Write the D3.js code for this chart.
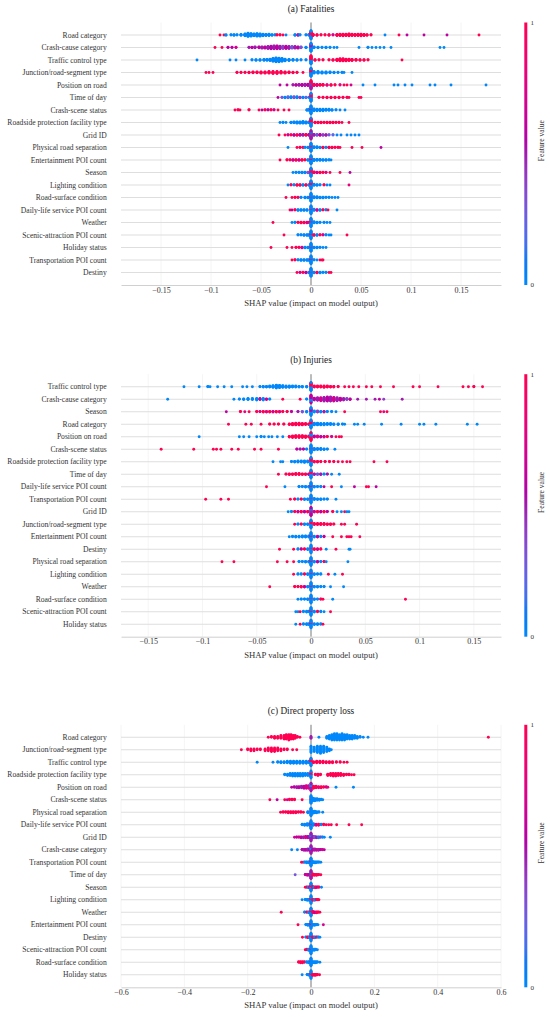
<!DOCTYPE html>
<html>
<head>
<meta charset="utf-8">
<script src="https://cdn.jsdelivr.net/npm/d3@7"></script>
<style>
  body { margin: 0; background: #fff; }
  svg { display: block; font-family: "Liberation Serif", "Times New Roman", serif; }
</style>
</head>
<body>
<svg></svg>
<script>
// each point group: [shap value, feature value (0 low .. 1 high), count]

let fatalFeatures = ["Road category", "Crash-cause category", "Traffic control type", "Junction/road-segment type",
    "Position on road", "Time of day", "Crash-scene status", "Roadside protection facility type", "Grid ID",
    "Physical road separation", "Entertainment POI count", "Season", "Lighting condition", "Road-surface condition",
    "Daily-life service POI count", "Weather", "Scenic-attraction POI count", "Holiday status",
    "Transportation POI count", "Destiny"];

let fatalPoints = [
    [[-0.091,1,1],[-0.087,1,1],[-0.085,0,2],[-0.08,0,2],[-0.077,0,3],[-0.074,0,2],[-0.07,0,4],[-0.066,0,8],[-0.063,0,12],[-0.06,0,10],[-0.057,0,8],[-0.054,0,10],[-0.051,0,9],[-0.048,0,7],[-0.045,0,5],[-0.042,0,6],[-0.039,0,3],[-0.036,0,2],[-0.034,1,2],[-0.031,1,2],[-0.028,1,1],[-0.025,0,1],[-0.016,0,3],[-0.013,0.5,3],[-0.011,0,2],[-0.005,0,2],[-0.002,0,4],
     [0,0,16],[0,1,10],[0,0.5,4],
     [0.002,1,6],[0.006,1,3],[0.01,1,2],[0.014,1,2],[0.018,1,3],[0.022,0.7,2],[0.026,1,5],[0.029,1,6],[0.032,1,7],[0.035,1,6],[0.038,1,8],[0.041,1,6],[0.044,1,5],[0.047,1,6],[0.05,1,7],[0.053,1,5],[0.056,1,3],[0.06,1,2],[0.074,0,1],[0.088,1,1],[0.096,0.6,1],[0.113,0.6,1],[0.136,0.6,1],[0.168,1,1]],
    [[-0.096,1,1],[-0.089,1,1],[-0.083,0.6,2],[-0.079,0.6,2],[-0.075,0.7,2],[-0.062,0.5,2],[-0.059,0.6,3],[-0.056,0.5,4],[-0.052,0.6,4],[-0.049,0.5,5],[-0.046,0.6,5],[-0.043,0.5,7],[-0.04,0.55,9],[-0.037,0.5,10],[-0.034,0.6,10],[-0.031,0.5,9],[-0.028,0.4,8],[-0.025,0.6,8],[-0.022,0.5,7],[-0.019,0.3,6],[-0.016,0.5,6],[-0.013,0.6,5],[-0.01,0.3,4],[-0.005,0,3],
     [0,0,16],[0,0.5,10],
     [0.003,0,4],[0.007,0,3],[0.011,0,2],[0.015,0,3],[0.019,0,2],[0.023,0,1],[0.026,0,1],[0.048,0,1],[0.057,0,2],[0.061,0,1],[0.065,0,1],[0.069,0,1],[0.073,0,1],[0.08,0,1],[0.129,0,1],[0.133,0,1]],
    [[-0.114,0,1],[-0.081,0,1],[-0.075,0,1],[-0.066,0,1],[-0.059,0,2],[-0.055,0,3],[-0.051,0,3],[-0.047,0,4],[-0.044,0,4],[-0.041,0,6],[-0.038,0,10],[-0.035,0,14],[-0.032,0,13],[-0.029,0,10],[-0.026,0,7],[-0.022,0,5],[-0.018,0,4],[-0.014,0,3],[-0.01,0,2],[-0.005,0,2],
     [0,0,14],[0,1,14],
     [0.004,1,3],[0.008,1,2],[0.012,1,2],[0.018,1,2],[0.022,1,3],[0.026,1,6],[0.029,1,8],[0.032,1,8],[0.035,1,7],[0.038,1,6],[0.041,1,5],[0.045,1,4],[0.049,1,3],[0.053,1,3],[0.057,1,2],[0.091,1,1]],
    [[-0.105,1,1],[-0.102,1,1],[-0.098,1,1],[-0.074,1,2],[-0.07,1,2],[-0.066,1,2],[-0.062,1,3],[-0.058,1,4],[-0.054,1,4],[-0.05,1,5],[-0.046,1,5],[-0.042,1,6],[-0.038,1,7],[-0.034,1,7],[-0.03,1,6],[-0.026,1,5],[-0.022,1,4],[-0.018,1,3],[-0.014,1,2],[-0.008,1,1],
     [0,0,16],[0,1,10],
     [0.003,0,6],[0.007,0,6],[0.011,0,5],[0.015,0,5],[0.019,0,4],[0.023,0,3],[0.027,0,2],[0.031,0,2],[0.033,0,1],[0.041,0,1]],
    [[-0.031,0.6,1],[-0.024,0.6,1],[-0.018,0.5,2],[-0.015,0.6,3],[-0.012,0.5,4],[-0.009,0.6,5],[-0.006,0.5,6],[-0.003,0.6,6],
     [0,0.5,12],[0,1,12],[0,0,6],
     [0.003,1,6],[0.006,0.8,5],[0.009,1,4],[0.012,1,4],[0.016,0.8,3],[0.02,1,3],[0.024,1,2],[0.029,0.8,2],[0.033,1,1],[0.036,1,1],[0.04,0.7,1],[0.052,0,1],[0.064,0,1],[0.083,0,1],[0.087,0,1],[0.094,0,1],[0.101,0,1],[0.119,0,1],[0.124,0,1],[0.14,0,1],[0.175,0,1]],
    [[-0.033,0.6,1],[-0.029,0.3,2],[-0.026,0,3],[-0.023,0.2,4],[-0.02,0,4],[-0.017,0.3,4],[-0.014,0,4],[-0.011,0.4,3],[-0.008,0,3],[-0.005,0.2,3],[-0.002,0,2],
     [0,0,14],[0,1,10],
     [0.008,1,2],[0.012,1,2],[0.016,1,3],[0.02,1,3],[0.024,1,3],[0.028,1,3],[0.032,1,2],[0.036,1,2],[0.038,1,1],[0.048,1,1],[0.05,1,1]],
    [[-0.076,1,1],[-0.073,1,2],[-0.071,1,1],[-0.062,1,2],[-0.052,1,1],[-0.049,0.6,1],[-0.046,1,2],[-0.043,0.6,2],[-0.04,1,2],[-0.037,0.7,2],[-0.033,1,1],[-0.027,1,1],[-0.022,1,1],[-0.004,0,3],[-0.002,0,4],
     [0,0,20],[0,1,4],
     [0.003,0,6],[0.006,0,5],[0.009,0,5],[0.012,0,5],[0.015,0,4],[0.018,0,4],[0.021,0,3],[0.025,0,2],[0.029,0,1],[0.034,0,1]],
    [[-0.031,0,1],[-0.028,0,2],[-0.025,0,1],[-0.02,0,3],[-0.017,0,4],[-0.014,0,5],[-0.011,0,5],[-0.008,0,6],[-0.005,0,5],[-0.002,0,4],
     [0,0,14],[0,1,12],
     [0.004,1,3],[0.007,1,3],[0.01,1,3],[0.013,1,2],[0.016,1,3],[0.019,1,3],[0.022,1,3],[0.025,1,2],[0.028,1,2],[0.031,1,1],[0.038,1,1]],
    [[-0.032,1,1],[-0.026,1,1],[-0.023,0.7,2],[-0.02,1,2],[-0.017,0.6,3],[-0.014,1,3],[-0.011,0.7,4],[-0.008,0.5,4],[-0.005,1,4],[-0.002,0.6,4],
     [0,0.5,14],[0,0,10],[0,1,6],
     [0.003,0.5,4],[0.006,0.3,4],[0.009,0.6,4],[0.012,0.4,3],[0.015,0.5,3],[0.018,0.3,2],[0.022,0.2,2],[0.026,0,1],[0.03,0,1],[0.036,0,1],[0.04,0,1],[0.044,0,1],[0.048,0,1]],
    [[-0.023,0,1],[-0.014,1,1],[-0.011,1,2],[-0.008,1,2],[-0.006,0,2],[-0.003,0,3],
     [0,0,18],[0,1,6],
     [0.003,0,4],[0.006,0,4],[0.009,0,3],[0.012,1,3],[0.015,0,2],[0.018,1,3],[0.021,1,3],[0.024,1,2],[0.027,1,2],[0.029,1,1],[0.041,1,1],[0.051,1,1],[0.07,0.6,1]],
    [[-0.031,1,1],[-0.024,1,2],[-0.021,1,2],[-0.018,0.7,3],[-0.015,1,3],[-0.012,0.7,3],[-0.009,1,3],[-0.006,1,2],[-0.003,0,3],
     [0,0,20],[0,1,6],
     [0.003,0,5],[0.006,0,4],[0.009,0,4],[0.012,0,3],[0.015,0,3],[0.018,0,2],[0.02,0,1]],
    [[-0.018,0,1],[-0.015,0,2],[-0.012,0,2],[-0.009,0,3],[-0.006,0,3],[-0.003,0.3,3],
     [0,0,14],[0,1,8],[0,0.5,4],
     [0.003,1,4],[0.006,0.7,3],[0.009,1,3],[0.012,1,2],[0.015,0.8,2],[0.019,1,1],[0.029,1,1],[0.039,0.6,1]],
    [[-0.023,0,1],[-0.02,1,2],[-0.017,0,2],[-0.014,1,3],[-0.011,1,3],[-0.008,0,3],[-0.005,1,3],[-0.002,0,3],
     [0,0,16],[0,1,8],
     [0.003,0,4],[0.006,0,3],[0.009,0,2],[0.013,1,2],[0.016,0,1],[0.019,0,1],[0.038,0.8,1]],
    [[-0.025,1,1],[-0.019,1,1],[-0.016,1,2],[-0.013,1,2],[-0.01,0,2],[-0.006,0,3],[-0.003,0,3],
     [0,0,18],[0,1,4],
     [0.003,0,4],[0.006,0,4],[0.009,0,3],[0.012,0,3],[0.015,0,2],[0.018,0,2],[0.021,0,1],[0.024,0,1],[0.027,0,1]],
    [[-0.021,1,1],[-0.019,0.6,1],[-0.016,1,2],[-0.013,0,3],[-0.01,0,3],[-0.007,0,3],[-0.004,0,3],
     [0,0,18],[0,1,4],
     [0.003,0,4],[0.006,0.7,3],[0.009,0,3],[0.012,1,2],[0.015,0,2],[0.017,1,1],[0.026,0,1]],
    [[-0.038,1,1],[-0.019,0,1],[-0.016,0,2],[-0.013,1,2],[-0.01,1,3],[-0.007,1,3],[-0.004,0.7,3],[-0.002,1,2],
     [0,0,18],[0,1,5],
     [0.003,0,4],[0.006,0,3],[0.009,0,2],[0.013,0,2],[0.016,0,1],[0.019,0,1]],
    [[-0.027,1,1],[-0.013,0,2],[-0.01,0,2],[-0.007,0,3],[-0.004,0,3],[-0.002,0,3],
     [0,0,18],[0,1,4],
     [0.003,1,3],[0.006,0,3],[0.009,1,2],[0.012,0.7,2],[0.015,0,2],[0.018,0,1],[0.02,0,1],[0.036,1,1]],
    [[-0.04,1,1],[-0.024,1,1],[-0.019,1,1],[-0.015,1,2],[-0.012,1,2],[-0.009,0.7,3],[-0.006,0,3],[-0.003,0,3],
     [0,0,18],[0,1,4],
     [0.003,0,3],[0.006,0,3],[0.009,0,2],[0.012,0,1],[0.015,0,1]],
    [[-0.019,1,1],[-0.016,1,2],[-0.013,0,2],[-0.01,0,3],[-0.007,0,3],[-0.004,0,3],[-0.002,0,3],
     [0,0,18],[0,1,4],
     [0.003,0,2],[0.006,0,1],[0.009,1,1],[0.011,1,1],[0.012,1,1]],
    [[-0.014,1,1],[-0.011,0.7,2],[-0.008,1,2],[-0.005,0.6,3],[-0.002,0,3],
     [0,0,18],[0,1,4],
     [0.003,0,3],[0.006,1,3],[0.009,0,3],[0.012,0,2],[0.015,0,2],[0.018,1,1],[0.02,1,1]]
];

let injuryFeatures = ["Traffic control type", "Crash-cause category", "Season", "Road category", "Position on road",
    "Crash-scene status", "Roadside protection facility type", "Time of day", "Daily-life service POI count",
    "Transportation POI count", "Grid ID", "Junction/road-segment type", "Entertainment POI count", "Destiny",
    "Physical road separation", "Lighting condition", "Weather", "Road-surface condition",
    "Scenic-attraction POI count", "Holiday status"];

let injuryPoints = [
    [[-0.117,0,1],[-0.103,0,1],[-0.095,0,2],[-0.093,0,1],[-0.086,0,1],[-0.08,0,1],[-0.073,0,1],[-0.063,0,1],[-0.059,0,1],[-0.054,0,1],[-0.047,0,2],[-0.044,0,3],[-0.041,0,3],[-0.038,0,4],[-0.035,0,6],[-0.032,0,10],[-0.029,0,8],[-0.026,0,6],[-0.023,0,5],[-0.02,0,5],[-0.017,0,4],[-0.014,0,4],[-0.011,0,3],[-0.008,0,3],[-0.004,0,3],
     [0,0,14],[0,1,12],
     [0.003,1,4],[0.006,1,4],[0.009,1,4],[0.012,1,5],[0.015,1,4],[0.018,1,3],[0.021,1,3],[0.025,1,2],[0.031,1,1],[0.035,1,1],[0.039,1,1],[0.044,1,1],[0.051,1,1],[0.056,1,1],[0.064,1,1],[0.076,1,1],[0.094,1,1],[0.1,1,1],[0.117,1,1],[0.14,1,1],[0.145,1,1],[0.15,1,2],[0.158,1,1]],
    [[-0.132,0,1],[-0.071,0,1],[-0.066,0,2],[-0.062,0,3],[-0.058,0,4],[-0.054,0,4],[-0.05,0,5],[-0.047,0.5,4],[-0.044,0,5],[-0.041,0.7,3],[-0.038,0,2],[-0.026,1,1],[-0.01,1,1],[-0.004,0,2],
     [0,0,10],[0,0.6,12],
     [0.003,0.6,6],[0.006,0.5,8],[0.009,0.7,9],[0.012,0.5,11],[0.015,0.6,12],[0.018,0.5,12],[0.021,0.7,11],[0.024,0.5,9],[0.027,0.6,7],[0.03,0.5,5],[0.033,0.4,4],[0.036,0.6,3],[0.043,0.5,1],[0.051,0.5,1],[0.059,0.5,1],[0.063,0.6,1],[0.067,0.4,1],[0.084,0.5,1]],
    [[-0.078,0.6,1],[-0.065,1,2],[-0.061,0.8,1],[-0.057,1,1],[-0.05,1,2],[-0.047,0.8,2],[-0.044,1,3],[-0.041,0.8,3],[-0.038,1,3],[-0.035,0.7,3],[-0.032,1,3],[-0.029,0.8,3],[-0.026,1,2],[-0.022,1,2],[-0.018,0.6,2],[-0.012,0.5,2],[-0.008,0.3,3],[-0.004,0,3],
     [0,0,14],[0,0.6,8],
     [0.003,0,4],[0.006,0.4,4],[0.009,0,3],[0.012,0.5,3],[0.015,0,2],[0.019,0,2],[0.023,0,1],[0.031,1,1],[0.064,1,1],[0.067,0.8,1],[0.07,1,1]],
    [[-0.076,1,1],[-0.06,1,1],[-0.055,1,1],[-0.046,1,1],[-0.038,1,2],[-0.034,1,2],[-0.03,1,2],[-0.025,1,2],[-0.02,1,3],[-0.017,1,5],[-0.014,1,6],[-0.011,1,6],[-0.008,1,5],[-0.005,1,4],[-0.002,1,3],
     [0,0,14],[0,1,10],
     [0.003,0,6],[0.006,0,6],[0.009,0,5],[0.012,0,5],[0.015,0,4],[0.018,0,4],[0.021,0,3],[0.025,0,3],[0.029,0,2],[0.031,0,1],[0.04,0,1],[0.043,0,1],[0.049,0,1],[0.065,0,1],[0.083,0,1],[0.1,0,1],[0.104,0,1],[0.115,0,1],[0.144,0,1],[0.153,0,1]],
    [[-0.103,0,1],[-0.066,0,1],[-0.062,0,1],[-0.057,0,1],[-0.05,0,1],[-0.046,0,2],[-0.043,0,1],[-0.039,0,1],[-0.036,0,1],[-0.031,0,1],[-0.026,0,1],[-0.02,1,3],[-0.017,1,5],[-0.014,1,6],[-0.011,1,6],[-0.008,1,6],[-0.005,1,5],[-0.002,1,4],
     [0,1,12],[0,0,10],
     [0.003,0.6,4],[0.006,0.8,4],[0.009,0.6,3],[0.012,0.7,3],[0.015,1,2],[0.019,0.7,2],[0.023,1,1],[0.026,1,1],[0.028,1,1]],
    [[-0.138,1,1],[-0.108,1,1],[-0.09,1,1],[-0.087,1,1],[-0.083,1,1],[-0.073,1,1],[-0.067,1,1],[-0.052,1,1],[-0.046,1,1],[-0.03,1,1],[-0.013,0.6,2],[-0.01,0.5,2],[-0.007,0.6,2],[-0.004,0,2],
     [0,0,20],[0,1,4],
     [0.003,0,5],[0.006,0,4],[0.009,0,4],[0.012,0,3],[0.015,0,2],[0.022,0,1]],
    [[-0.035,0,1],[-0.028,0,1],[-0.026,0,1],[-0.018,0,2],[-0.015,0,3],[-0.012,0,4],[-0.009,0,4],[-0.006,0,5],[-0.003,0,4],
     [0,0,14],[0,1,10],
     [0.003,1,3],[0.006,1,3],[0.009,1,2],[0.013,1,2],[0.017,1,2],[0.021,1,2],[0.025,1,1],[0.029,1,1],[0.033,1,1],[0.036,1,1],[0.058,1,1],[0.07,1,1]],
    [[-0.03,1,1],[-0.023,1,2],[-0.02,1,3],[-0.017,1,3],[-0.014,1,4],[-0.011,1,4],[-0.008,1,3],[-0.005,1,3],[-0.002,0.6,3],
     [0,0,14],[0,1,8],
     [0.003,0.5,3],[0.006,0.3,3],[0.009,0.5,3],[0.012,0,2],[0.015,0.5,2],[0.019,0,1],[0.026,0,1]],
    [[-0.041,1,1],[-0.024,0,1],[-0.011,0,2],[-0.008,0,2],[-0.005,0,3],[-0.002,0,3],
     [0,0,18],[0,1,4],
     [0.003,0,3],[0.006,0,2],[0.009,0,2],[0.012,0.6,1],[0.019,1,1],[0.028,0,1],[0.04,0.6,1],[0.051,1,1],[0.053,1,1],[0.06,0.6,1]],
    [[-0.097,1,1],[-0.083,1,1],[-0.076,1,1],[-0.019,1,1],[-0.015,1,2],[-0.012,0,2],[-0.009,1,2],[-0.006,0,3],[-0.003,0,3],
     [0,0,18],[0,1,4],
     [0.003,0,4],[0.006,0,3],[0.009,0,3],[0.012,0,2],[0.015,0,2],[0.023,0,1]],
    [[-0.021,0,1],[-0.018,0,2],[-0.015,1,2],[-0.012,0.7,3],[-0.009,1,3],[-0.006,0.6,3],[-0.003,1,3],
     [0,0.6,12],[0,0,8],[0,1,4],
     [0.003,0.7,3],[0.006,1,3],[0.009,0.6,3],[0.012,1,3],[0.015,0.6,2],[0.02,1,2],[0.024,0,1],[0.028,0,1],[0.031,1,1],[0.033,0,1],[0.035,0,1]],
    [[-0.015,1,1],[-0.012,0,2],[-0.009,1,2],[-0.006,0,3],[-0.003,0,3],
     [0,0,14],[0,1,8],
     [0.003,1,4],[0.006,1,4],[0.009,1,4],[0.012,1,4],[0.015,1,3],[0.018,1,3],[0.021,1,2],[0.028,1,1],[0.031,1,1],[0.042,1,1]],
    [[-0.02,0,1],[-0.017,0,2],[-0.014,0,3],[-0.011,0,3],[-0.008,0,4],[-0.005,0,4],[-0.002,0,4],
     [0,0,16],[0,1,4],
     [0.003,0,3],[0.006,0.6,3],[0.009,0,2],[0.012,0.6,2],[0.02,1,1],[0.028,1,1],[0.033,1,1],[0.035,1,1],[0.037,1,1],[0.045,1,1]],
    [[-0.029,1,1],[-0.016,1,1],[-0.012,0,2],[-0.009,0.6,2],[-0.006,1,2],[-0.003,0,3],
     [0,0,16],[0,1,4],
     [0.003,1,3],[0.006,0.7,3],[0.009,1,2],[0.014,0,1],[0.023,1,1],[0.035,0,1],[0.036,0,1]],
    [[-0.082,1,1],[-0.071,1,1],[-0.031,1,1],[-0.022,1,1],[-0.016,1,1],[-0.011,0,2],[-0.008,0,2],[-0.005,0,3],[-0.002,0,3],
     [0,0,18],[0,1,4],
     [0.003,0,3],[0.006,0.6,3],[0.009,0,2],[0.012,1,2],[0.014,0,1],[0.034,0,1]],
    [[-0.016,1,1],[-0.012,0,2],[-0.009,0,2],[-0.006,1,2],[-0.003,0,3],
     [0,0,16],[0,1,4],
     [0.003,0,3],[0.006,0,2],[0.009,0,2],[0.016,1,1],[0.022,0,1],[0.029,1,1]],
    [[-0.038,1,1],[-0.015,1,2],[-0.012,1,2],[-0.009,1,3],[-0.006,0.6,3],[-0.003,0,3],
     [0,0,18],[0,1,4],
     [0.003,0,3],[0.006,0,3],[0.009,0,2],[0.012,0,2],[0.018,0,1],[0.03,0,1]],
    [[-0.012,0,1],[-0.009,0,2],[-0.006,0,2],[-0.003,0,3],
     [0,0,18],[0,1,4],
     [0.003,0,3],[0.006,0,2],[0.009,1,2],[0.011,1,1],[0.02,0,1],[0.087,1,1]],
    [[-0.014,0,1],[-0.012,0,1],[-0.01,1,1],[-0.007,0,2],[-0.004,0,3],[-0.002,0,2],
     [0,0,16],[0,1,4],
     [0.003,0,3],[0.006,1,2],[0.009,0,2],[0.012,0,1],[0.018,1,1]],
    [[-0.014,0,1],[-0.01,1,1],[-0.007,0,2],[-0.004,0,3],[-0.002,0,3],
     [0,0,16],[0,1,4],
     [0.003,0,3],[0.006,0,3],[0.009,0,2],[0.011,1,1]]
];

let lossFeatures = ["Road category", "Junction/road-segment type", "Traffic control type",
    "Roadside protection facility type", "Position on road", "Crash-scene status", "Physical road separation",
    "Daily-life service POI count", "Grid ID", "Crash-cause category", "Transportation POI count", "Time of day",
    "Season", "Lighting condition", "Weather", "Entertainment POI count", "Destiny", "Scenic-attraction POI count",
    "Road-surface condition", "Holiday status"];

let lossPoints = [
    [[-0.135,1,1],[-0.125,1,2],[-0.115,1,3],[-0.105,1,3],[-0.095,1,4],[-0.085,1,5],[-0.078,1,6],[-0.07,1,7],[-0.063,1,6],[-0.056,1,5],[-0.05,1,4],[-0.043,1,2],[-0.035,1,1],
     [0,0.5,3],
     [0.025,0,1],[0.05,0,3],[0.058,0,5],[0.066,0,7],[0.074,0,8],[0.082,0,8],[0.09,0,7],[0.098,0,8],[0.106,0,7],[0.114,0,6],[0.122,0,5],[0.13,0,5],[0.138,0,4],[0.146,0,3],[0.155,0,2],[0.165,0,1],[0.18,0,1],[0.56,1,1]],
    [[-0.22,1,1],[-0.2,1,2],[-0.19,1,3],[-0.18,1,3],[-0.17,1,2],[-0.16,1,2],[-0.145,1,3],[-0.135,1,4],[-0.125,1,5],[-0.115,1,5],[-0.105,1,4],[-0.095,1,3],[-0.085,1,2],[-0.075,1,2],[-0.058,1,1],[-0.045,1,1],
     [0,0,8],
     [0.01,0,6],[0.02,0,8],[0.03,0,9],[0.04,0,8],[0.05,0,6],[0.058,0,3],[0.064,0,1]],
    [[-0.17,0,1],[-0.12,0,1],[-0.105,0,2],[-0.095,0,3],[-0.085,0,3],[-0.075,0,4],[-0.065,0,5],[-0.055,0,5],[-0.045,0,5],[-0.035,0,5],[-0.025,0,5],[-0.015,0,5],[-0.006,0,4],
     [0,0,10],[0,1,6],
     [0.008,1,3],[0.018,1,4],[0.028,1,4],[0.038,1,4],[0.048,1,3],[0.058,1,3],[0.068,1,3],[0.08,1,2],[0.092,1,2],[0.104,1,1],[0.114,1,1]],
    [[-0.083,0,2],[-0.074,0,3],[-0.066,0,4],[-0.058,0,5],[-0.05,0,5],[-0.042,0,5],[-0.034,0,5],[-0.026,0,5],[-0.018,0,4],[-0.01,0,4],[-0.004,0,3],
     [0,0,8],[0,1,4],
     [0.014,1,2],[0.022,1,3],[0.03,1,2],[0.053,1,3],[0.062,1,4],[0.07,1,5],[0.078,1,5],[0.086,1,4],[0.094,1,4],[0.103,1,3],[0.112,1,2],[0.12,1,2],[0.128,1,1],[0.136,1,1]],
    [[-0.061,0.6,1],[-0.053,0.6,2],[-0.045,0.5,3],[-0.038,0.6,3],[-0.03,0.5,4],[-0.022,0.6,5],[-0.015,0.7,6],[-0.008,0.8,6],
     [0,0.5,10],[0,0,6],
     [0.008,1,5],[0.016,1,4],[0.024,0.8,3],[0.032,1,3],[0.04,1,2],[0.048,0.7,2],[0.053,0.8,1],[0.079,0,1],[0.134,0,1]],
    [[-0.13,1,1],[-0.107,0.6,1],[-0.083,1,1],[-0.075,0.7,1],[-0.068,1,2],[-0.06,1,2],[-0.052,1,2],[-0.028,1,1],
     [0,0,14],[0,1,2],
     [0.006,0,6],[0.012,0,5],[0.019,0,4],[0.026,0,3],[0.032,0,2],[0.037,0,1]],
    [[-0.096,1,1],[-0.088,1,2],[-0.08,1,2],[-0.072,1,3],[-0.064,1,3],[-0.056,1,3],[-0.048,1,3],[-0.04,1,2],[-0.032,1,2],[-0.024,1,1],[-0.01,0,3],
     [0,0,14],[0,1,2],
     [0.006,0,5],[0.012,0,4],[0.018,0,3],[0.025,0,2],[0.037,0,1]],
    [[-0.028,0,2],[-0.02,0,3],[-0.012,0,4],[-0.005,0,4],
     [0,0,14],[0,1,3],
     [0.008,0,4],[0.016,0.7,3],[0.024,1,3],[0.032,0,2],[0.04,1,2],[0.048,1,1],[0.056,1,1],[0.064,1,1],[0.081,1,1],[0.12,1,1],[0.16,1,1]],
    [[-0.052,0.7,1],[-0.045,0.6,2],[-0.038,0.7,2],[-0.031,0.6,3],[-0.024,0.5,3],[-0.017,0.7,4],[-0.01,0.6,4],[-0.004,0.5,4],
     [0,0.5,12],[0,0,6],
     [0.006,0.5,4],[0.012,0.3,4],[0.018,0.5,3],[0.024,0,3],[0.03,0.4,2],[0.036,0,2],[0.042,0,1],[0.061,0,1]],
    [[-0.061,0,1],[-0.043,0,1],[-0.028,0.6,2],[-0.022,0.5,3],[-0.016,0.6,3],[-0.01,0.5,4],[-0.004,0.6,4],
     [0,0.5,12],[0,0,6],
     [0.006,0.6,4],[0.012,0.5,4],[0.018,0.7,3],[0.024,0.5,3],[0.03,0.6,2],[0.036,0.7,2],[0.042,0.6,1]],
    [[-0.03,1,1],[-0.025,1,1],[-0.02,0,2],[-0.014,0,3],[-0.008,0,3],[-0.003,0,4],
     [0,0,16],[0,1,4],
     [0.005,0,4],[0.01,0,3],[0.015,0,3],[0.02,0,2],[0.025,0,2],[0.031,0,1]],
    [[-0.05,0.3,1],[-0.018,0.6,2],[-0.012,0.7,3],[-0.006,0.6,3],
     [0,0.5,12],[0,0,6],[0,1,4],
     [0.006,1,4],[0.012,1,3],[0.018,1,3],[0.024,1,2],[0.031,1,1]],
    [[-0.018,1,1],[-0.013,1,2],[-0.008,0,3],[-0.004,0.5,3],
     [0,0,14],[0,1,6],
     [0.005,1,4],[0.01,0,3],[0.015,1,3],[0.02,0.6,2],[0.025,1,2],[0.033,0,1]],
    [[-0.028,0,1],[-0.018,0,2],[-0.012,0,3],[-0.006,0,3],
     [0,0,14],[0,1,4],
     [0.006,1,3],[0.012,0,3],[0.017,1,2],[0.021,1,2],[0.025,1,1]],
    [[-0.094,1,1],[-0.02,0,2],[-0.013,1,2],[-0.007,0,3],
     [0,0,14],[0,1,6],
     [0.006,1,4],[0.012,0.6,3],[0.018,1,3],[0.023,1,2],[0.028,1,1]],
    [[-0.041,1,1],[-0.016,0,2],[-0.01,0,3],[-0.005,0,3],
     [0,0,14],[0,1,4],
     [0.006,0,3],[0.012,0,3],[0.018,0,2],[0.022,0,1],[0.039,0.7,1]],
    [[-0.027,1,1],[-0.016,0,2],[-0.01,1,3],[-0.005,0,3],
     [0,0,14],[0,1,4],
     [0.006,1,3],[0.012,0,3],[0.018,1,2],[0.023,0,2],[0.028,0,1]],
    [[-0.018,1,1],[-0.013,1,2],[-0.008,0,3],[-0.004,0,3],
     [0,0,14],[0,1,3],
     [0.005,0,3],[0.01,0,3],[0.015,0,2],[0.02,0,1]],
    [[-0.039,1,2],[-0.033,1,3],[-0.027,1,3],[-0.021,1,2],[-0.014,0,2],[-0.008,0,3],[-0.004,0,3],
     [0,0,14],[0,1,2],
     [0.005,0,3],[0.01,0,3],[0.015,0,3],[0.02,0,2],[0.028,0,1]],
    [[-0.028,0,1],[-0.012,0,2],[-0.006,0,3],
     [0,0,14],[0,1,4],
     [0.005,1,3],[0.01,1,3],[0.015,1,3],[0.02,1,2],[0.027,1,1]]
];

let panelTitles = ["(a) Fatalities", "(b) Injuries", "(c) Direct property loss"];
let panelLimits = [0.19, 0.175, 0.6];
let fatalTicks = [-0.15, -0.1, -0.05, 0, 0.05, 0.1, 0.15];
let injuryTicks = [-0.15, -0.1, -0.05, 0, 0.05, 0.1, 0.15];
let lossTicks = [-0.6, -0.4, -0.2, 0, 0.2, 0.4, 0.6];

// layout
let width = 550;
let height = 1017;
let plotLeft = 121;
let plotRight = 501;
let rowStep = 12.5;
let panelTops = [22.5, 374.2, 724.8];

let svg = d3.select("svg")
    .attr("width", width)
    .attr("height", height);

// SHAP red_blue colour map (Lch interpolation, darker in the middle)
let shapColor = fv => {
    let l = fv < 0.5 ? 54 - 28 * fv : 40 + 28 * (fv - 0.5);
    return d3.hcl(266.9 + 113.4 * fv, 70 + 20 * fv, l).formatHex();
};

let grad = svg.append("defs")
    .append("linearGradient")
    .attr("id", "cbar")
    .attr("x1", 0).attr("y1", 1)
    .attr("x2", 0).attr("y2", 0);
d3.range(0, 1.0001, 0.05).forEach(t => {
    grad.append("stop")
        .attr("offset", t)
        .attr("stop-color", shapColor(t));
});

// beeswarm stacking as in shap.summary_plot
let swarm = groups => {
    let list = [];
    groups.forEach((g, j) => {
        for (let k = 0; k < g[2]; k++) list.push({ v: g[0], fv: g[1], k: k, j: j });
    });
    let lo = d3.min(list, d => d.v);
    let hi = d3.max(list, d => d.v);
    list.forEach(d => {
        d.q = Math.round(100 * (d.v - lo) / (hi - lo + 1e-8));
    });
    list.sort((a, b) => a.q - b.q || a.k - b.k || a.j - b.j);
    let layer = 0;
    let last = -1;
    list.forEach(d => {
        if (d.q !== last) layer = 0;
        d.off = Math.ceil(layer / 2) * ((layer % 2) * 2 - 1);
        layer++;
        last = d.q;
    });
    let top = d3.max(list, d => d.off + 1);
    list.forEach(d => {
        d.off *= 0.9 * 0.4 / top;
    });
    return list;
};

let drawPanel = (idx, features, points, ticks) => {
    let top = panelTops[idx];
    let bottom = top + rowStep * (features.length + 1);
    let lim = panelLimits[idx];

    let xScale = d3.scaleLinear()
        .domain([-lim, lim])
        .range([plotLeft, plotRight]);

    let yScale = d3.scaleLinear()
        .domain([-1, features.length])
        .range([top, bottom]);

    let g = svg.append("g");

    // faint vertical grid
    g.selectAll(".vgrid")
        .data(ticks)
        .enter()
        .append("line")
        .attr("x1", d => xScale(d))
        .attr("x2", d => xScale(d))
        .attr("y1", top)
        .attr("y2", bottom)
        .attr("stroke", "#f1f1f1")
        .attr("stroke-width", 0.8);

    // row lines
    g.selectAll(".hgrid")
        .data(features)
        .enter()
        .append("line")
        .attr("x1", plotLeft)
        .attr("x2", plotRight)
        .attr("y1", (d, i) => yScale(i))
        .attr("y2", (d, i) => yScale(i))
        .attr("stroke", "#dedede")
        .attr("stroke-width", 1.1);

    // zero line
    g.append("line")
        .attr("x1", xScale(0))
        .attr("x2", xScale(0))
        .attr("y1", top)
        .attr("y2", bottom)
        .attr("stroke", "#707070")
        .attr("stroke-width", 0.9);

    // dots
    points.forEach((groups, i) => {
        let dots = swarm(groups);
        g.append("g")
            .selectAll("circle")
            .data(dots)
            .enter()
            .append("circle")
            .attr("cx", d => xScale(d.v))
            .attr("cy", d => yScale(i) - d.off * rowStep)
            .attr("r", 1.45)
            .attr("fill", d => shapColor(d.fv));
    });

    // feature labels
    g.selectAll(".flabel")
        .data(features)
        .enter()
        .append("text")
        .attr("x", 106.7)
        .attr("y", (d, i) => yScale(i))
        .attr("dy", "0.35em")
        .attr("text-anchor", "end")
        .attr("font-size", 7.6)
        .attr("fill", "#333")
        .text(d => d);

    // x axis
    let xAxis = d3.axisBottom(xScale)
        .tickValues(ticks)
        .tickSize(0)
        .tickPadding(2)
        .tickFormat(d3.format("~g"));

    let ax = g.append("g")
        .attr("transform", `translate(0, ${bottom})`)
        .call(xAxis);
    ax.select(".domain")
        .attr("stroke", "#c4c4c4")
        .attr("stroke-width", 0.8);
    ax.selectAll("text")
        .attr("font-family", "Liberation Serif")
        .attr("font-size", 8)
        .attr("fill", "#333");

    g.append("text")
        .attr("x", xScale(0))
        .attr("y", bottom + 18)
        .attr("dy", "0.35em")
        .attr("text-anchor", "middle")
        .attr("font-size", 8.7)
        .attr("fill", "#333")
        .text("SHAP value (impact on model output)");

    // title
    g.append("text")
        .attr("x", xScale(0))
        .attr("y", top - 14)
        .attr("dy", "0.35em")
        .attr("text-anchor", "middle")
        .attr("font-size", 9.3)
        .attr("fill", "#222")
        .text(panelTitles[idx]);

    // colour bar
    g.append("rect")
        .attr("x", 524.3)
        .attr("y", top)
        .attr("width", 3)
        .attr("height", bottom - top)
        .attr("fill", "url(#cbar)");

    g.append("text")
        .attr("x", 530.5)
        .attr("y", top)
        .attr("dy", "0.35em")
        .attr("font-size", 7)
        .attr("fill", "#333")
        .text("1");

    g.append("text")
        .attr("x", 530.5)
        .attr("y", bottom)
        .attr("dy", "0.35em")
        .attr("font-size", 7)
        .attr("fill", "#333")
        .text("0");

    let ly = top + 0.45 * (bottom - top);
    g.append("text")
        .attr("transform", `translate(541, ${ly}) rotate(-90)`)
        .attr("dy", "0.35em")
        .attr("text-anchor", "middle")
        .attr("font-size", 7.6)
        .attr("fill", "#333")
        .text("Feature value");
};

drawPanel(0, fatalFeatures, fatalPoints, fatalTicks);
drawPanel(1, injuryFeatures, injuryPoints, injuryTicks);
drawPanel(2, lossFeatures, lossPoints, lossTicks);
</script>
</body>
</html>
